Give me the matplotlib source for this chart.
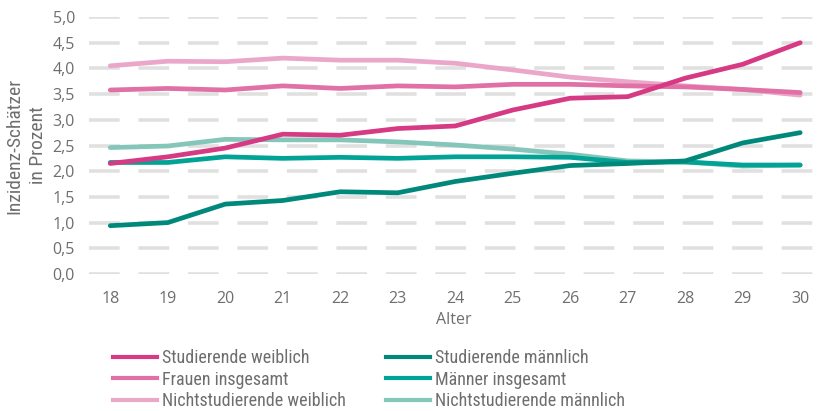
import matplotlib
matplotlib.use('Agg')
import matplotlib.pyplot as plt
from matplotlib.lines import Line2D
from matplotlib import font_manager

alter = list(range(18, 31))

stud_w = [2.15, 2.28, 2.45, 2.72, 2.70, 2.83, 2.88, 3.19, 3.42, 3.45, 3.81, 4.08, 4.50]
frauen = [3.58, 3.61, 3.58, 3.66, 3.61, 3.66, 3.64, 3.69, 3.69, 3.66, 3.64, 3.59, 3.53]
nstud_w = [4.05, 4.14, 4.13, 4.20, 4.16, 4.16, 4.10, 3.97, 3.83, 3.74, 3.66, 3.59, 3.48]
stud_m = [0.94, 1.00, 1.36, 1.43, 1.60, 1.58, 1.80, 1.96, 2.11, 2.15, 2.20, 2.55, 2.75]
maenner = [2.17, 2.17, 2.28, 2.25, 2.27, 2.25, 2.28, 2.28, 2.27, 2.17, 2.18, 2.12, 2.12]
nstud_m = [2.46, 2.49, 2.62, 2.61, 2.61, 2.57, 2.51, 2.43, 2.33, 2.20, 2.18, 2.10, 2.12]

namen = ['Studierende weiblich', 'Frauen insgesamt', 'Nichtstudierende weiblich',
         'Studierende männlich', 'Männer insgesamt', 'Nichtstudierende männlich']
farben = ['#d63a84', '#e070a5', '#eba7c9', '#00897b', '#00a396', '#85c6bb']

grau = '#6e6e6e'
plt.rcParams['font.family'] = ['Open Sans', 'DejaVu Sans']

# pick a narrow font if one is there, else condensed DejaVu
vorhanden = {f.name for f in font_manager.fontManager.ttflist}
schmal = {'family': 'DejaVu Sans', 'stretch': 'condensed'}
groesse = 11.5
for kandidat in ['Roboto Condensed', 'Fira Sans Condensed', 'Titillium Web']:
    if kandidat in vorhanden:
        schmal = {'family': kandidat}
        groesse = 13 if kandidat == 'Roboto Condensed' else 11.5
        break

fig = plt.figure(figsize=(8.2, 4.11), dpi=100)
ax = fig.add_axes([89/820, 1-274/411, (818-89)/820, (274-17)/411])

serien = [stud_w, frauen, nstud_w, stud_m, maenner, nstud_m]
reihenfolge = [2, 1, 5, 4, 3, 0]
for i in reihenfolge:
    ax.plot(alter, serien[i], color=farben[i], lw=3.4, solid_capstyle='round', zorder=3)

ax.set_xlim(17.63, 30.31)
ax.set_ylim(0, 5)
ax.set_yticks([i*0.5 for i in range(11)])
ax.set_yticklabels([f'{i*0.5:.1f}'.replace('.', ',') for i in range(11)])
ax.set_xticks(alter)
for y in [i*0.5 for i in range(11)]:
    ax.axhline(y, color='#e0e0e0', lw=2.6, dashes=(8.5, 5.2), zorder=1)
for s in ax.spines.values():
    s.set_visible(False)
ax.tick_params(length=0, labelsize=11.5, colors=grau)
ax.tick_params(axis='y', pad=10)
ax.tick_params(axis='x', pad=12)
ax.set_xlabel('Alter', fontsize=11.5, color=grau, labelpad=4)
ax.set_ylabel('Inzidenz-Schätzer\nin Prozent', fontsize=groesse + 1, color=grau, labelpad=4,
              linespacing=1.4, **schmal)

spalten = [(113, [0, 1, 2]), (386, [3, 4, 5])]
for x0, idx in spalten:
    h = [Line2D([], [], color=farben[i], lw=3.0) for i in idx]
    fig.legend(h, [namen[i] for i in idx], loc='upper left',
               bbox_to_anchor=(x0/820, 1-349/411), frameon=False,
               prop=dict(schmal, size=groesse),
               handlelength=44 / (groesse * 100 / 72), handletextpad=0.3,
               labelspacing=0.2, borderpad=0, borderaxespad=0, labelcolor=grau)

fig.savefig('out.png', dpi=100)
